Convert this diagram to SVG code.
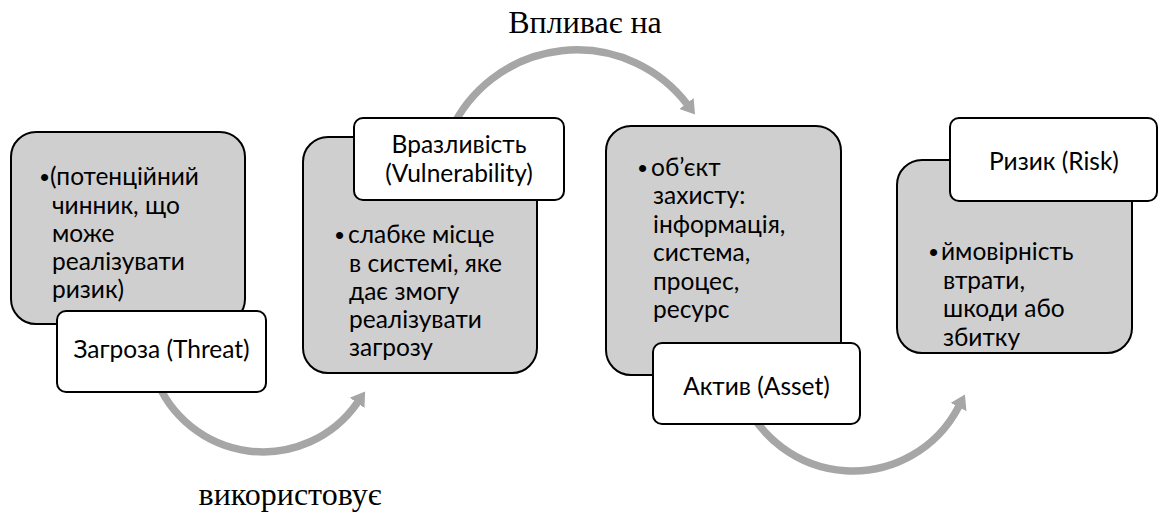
<svg xmlns="http://www.w3.org/2000/svg" width="1159" height="513" viewBox="0 0 1159 513">
<defs>
<marker id="ah" markerUnits="userSpaceOnUse" markerWidth="16" markerHeight="20" viewBox="0 -10 16 20" refX="0.5" refY="0" orient="auto">
<path d="M0,-9 L14,0 L0,9 z" fill="#A6A6A6"/>
</marker>
<style>
.arc{fill:none;stroke:#A6A6A6;stroke-width:7.5;marker-end:url(#ah)}
.gbox{fill:#CFCFCF;stroke:#000;stroke-width:2}
.wbox{fill:#FFFFFF;stroke:#000;stroke-width:2}
.t{font-family:Lato,"Liberation Sans",sans-serif;font-size:24.5px;fill:#000}
.b{font-family:"Liberation Sans",sans-serif;font-size:26px;fill:#000}
.c{text-anchor:middle}
.lbl{font-family:"Liberation Serif","Times New Roman",serif;font-size:32px;fill:#000;text-anchor:middle}
</style>
</defs>
<rect width="1159" height="513" fill="#FFFFFF"/>
<g id="connectors">
<path class="arc" d="M155,376.3 A115,115 0 0 0 357.4,402.6"/>
<path class="arc" d="M451,130 A139,139 0 0 1 686.8,103.8"/>
<path class="arc" d="M741.2,392.7 A119,119 0 0 0 958.7,406.6"/>
</g>
<g id="threat">
<rect class="gbox" x="11" y="132" width="234" height="192" rx="25"/>
<text class="b" x="40" y="186">•</text>
<text class="t" x="50" y="185">(потенційний</text>
<text class="t" x="52" y="213.5">чинник, що</text>
<text class="t" x="52" y="242">може</text>
<text class="t" x="52" y="270">реалізувати</text>
<text class="t" x="52" y="298">ризик)</text>
<rect class="wbox" x="57" y="311" width="209" height="81" rx="9"/>
<text class="t c" x="161.5" y="358">Загроза (Threat)</text>
</g>
<g id="vulnerability">
<rect class="gbox" x="303" y="137" width="234" height="236" rx="25"/>
<text class="b" x="335" y="244">•</text>
<text class="t" x="348" y="243">слабке місце</text>
<text class="t" x="349" y="271.5">в системі, яке</text>
<text class="t" x="349" y="300">дає змогу</text>
<text class="t" x="349" y="328">реалізувати</text>
<text class="t" x="349" y="356">загрозу</text>
<rect class="wbox" x="354" y="118" width="210" height="82" rx="9"/>
<text class="t c" x="459" y="153">Вразливість</text>
<text class="t c" x="459" y="182">(Vulnerability)</text>
</g>
<g id="asset">
<rect class="gbox" x="606" y="126" width="235" height="249" rx="25"/>
<text class="b" x="638" y="176.5">•</text>
<text class="t" x="651" y="175.5">об’єкт</text>
<text class="t" x="653" y="204">захисту:</text>
<text class="t" x="653" y="232.5">інформація,</text>
<text class="t" x="653" y="261">система,</text>
<text class="t" x="653" y="289.5">процес,</text>
<text class="t" x="653" y="318">ресурс</text>
<rect class="wbox" x="653" y="343" width="207" height="81" rx="9"/>
<text class="t c" x="756.5" y="395">Актив (Asset)</text>
</g>
<g id="risk">
<rect class="gbox" x="897" y="160" width="235" height="193" rx="25"/>
<text class="b" x="929" y="261">•</text>
<text class="t" x="941" y="260">ймовірність</text>
<text class="t" x="943" y="288.5">втрати,</text>
<text class="t" x="943" y="317">шкоди або</text>
<text class="t" x="943" y="345.5">збитку</text>
<rect class="wbox" x="950" y="118" width="207" height="83" rx="9"/>
<text class="t c" x="1054" y="170">Ризик (Risk)</text>
</g>
<g id="labels">
<text class="lbl" x="585" y="33">Впливає на</text>
<text class="lbl" x="290" y="505">використовує</text>
</g>
</svg>
